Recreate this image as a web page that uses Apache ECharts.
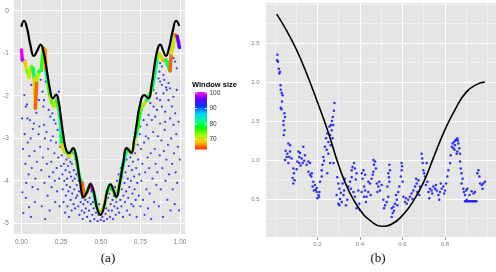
<!DOCTYPE html>
<html><head><meta charset="utf-8">
<script src="https://cdn.jsdelivr.net/npm/echarts@6/dist/echarts.min.js"></script>
<style>html,body{margin:0;padding:0;background:#fff}#c{width:496px;height:272px}</style>
</head><body><div id="c"></div>
<script>
// ---------- Panel (a) data ----------
var aXTicks = [0, 0.25, 0.5, 0.75, 1];
var aXTickLabels = ['0.00', '0.25', '0.50', '0.75', '1.00'];
var aXMinor = [0.125, 0.375, 0.625, 0.875];
var aYTicks = [0, -1, -2, -3, -4, -5];
var aYTickLabels = ['0', '-1', '-2', '-3', '-4', '-5'];
var aYMinor = [-0.5, -1.5, -2.5, -3.5, -4.5];
var aXRange = [-0.0483, 1.031], aYRange = [-5.252, 0.259];

var curveAX = [0.00,0.016,0.035,0.055,0.079,0.10,0.121,0.14,0.16,0.18,0.198,0.218,0.235,0.25,0.265,0.28,0.299,0.326,0.345,0.365,0.393,0.415,0.435,0.455,0.475,0.498,0.52,0.54,0.561,0.58,0.598,0.62,0.64,0.665,0.692,0.71,0.725,0.745,0.774,0.80,0.82,0.84,0.858,0.874,0.893,0.91,0.93,0.955,0.975,0.995];
var curveAY = [-0.37,-0.23,-0.40,-0.78,-1.06,-0.93,-0.79,-0.98,-1.40,-1.85,-2.06,-1.97,-2.15,-2.55,-2.95,-3.25,-3.35,-3.23,-3.42,-3.90,-4.38,-4.25,-4.08,-4.25,-4.62,-4.80,-4.62,-4.25,-4.08,-4.22,-4.38,-4.05,-3.62,-3.23,-3.34,-3.05,-2.70,-2.25,-1.98,-2.05,-1.75,-1.25,-0.90,-0.79,-0.93,-1.06,-0.88,-0.45,-0.23,-0.35];

var winX = [0.0,0.006,0.021,0.033,0.048,0.063,0.073,0.081,0.088,0.096,0.11,0.125,0.138,0.148,0.155,0.167,0.18,0.19,0.205,0.222,0.236,0.247,0.25,0.253,0.267,0.285,0.30,0.326,0.345,0.365,0.383,0.393,0.415,0.435,0.455,0.475,0.498,0.52,0.54,0.561,0.58,0.598,0.62,0.64,0.665,0.692,0.705,0.72,0.732,0.75,0.774,0.79,0.81,0.825,0.842,0.855,0.864,0.879,0.895,0.91,0.937,0.944,0.955,0.968,0.982,0.996];
var winY = [-0.92,-1.15,-1.19,-1.39,-1.56,-1.31,-1.35,-1.59,-2.29,-1.63,-1.43,-1.39,-0.88,-0.92,-1.43,-1.70,-2.02,-2.14,-2.25,-2.10,-2.33,-2.64,-2.90,-3.15,-3.31,-3.32,-3.42,-3.25,-3.45,-3.92,-4.05,-4.38,-4.25,-4.08,-4.27,-4.62,-4.78,-4.62,-4.25,-4.10,-4.24,-4.38,-4.05,-3.62,-3.25,-3.34,-3.25,-2.95,-2.76,-2.33,-2.18,-2.10,-1.95,-1.80,-1.43,-1.15,-0.99,-1.06,-1.17,-1.15,-1.41,-1.00,-0.85,-0.56,-0.60,-0.86];
var winW = [100,98,69,74,70,75,80,70,65,72,80,76,65,66,82,76,71,75,70,80,81,82,79,69,72,75,70,80,78,80,65,66,77,100,80,74,70,73,80,78,74,74,80,82,78,69,72,80,77,74,70,80,75,80,81,75,70,70,67,80,65,70,71,65,96,66];
var winScaleMin = 63.3, winScaleMax = 100.7;
var winLegendTicks = [70, 80, 90, 100];

var scatterA = [
[0.004,-2.53],[0.01,-3.25],[0.006,-4.27],[0.012,-4.76],[0.02,-2.9],[0.025,-3.6],[0.03,-4.05],[0.028,-4.4],[0.035,-2.2],[0.04,-3.1],[0.045,-3.85],[0.048,-4.62],[0.018,-1.98],[0.027,-2.25],[0.038,-2.53],[0.05,-3.42],
[0.054,-2.57],[0.058,-3.0],[0.062,-1.74],[0.065,-3.7],[0.07,-4.15],[0.072,-2.78],[0.078,-1.55],[0.079,-2.65],[0.082,-3.3],[0.085,-4.5],[0.088,-3.95],[0.09,-1.86],[0.094,-2.4],[0.096,-2.06],[0.098,-3.55],[0.06,-4.85],
[0.104,-4.2],[0.108,-2.9],[0.111,-2.1],[0.113,-2.72],[0.118,-3.2],[0.121,-1.62],[0.125,-3.75],[0.128,-4.6],[0.132,-1.9],[0.135,-3.45],[0.138,-2.25],[0.142,-2.68],[0.142,-2.1],[0.145,-4.05],[0.148,-3.0],[0.15,-4.9],
[0.153,-1.66],[0.158,-2.85],[0.16,-3.6],[0.163,-1.59],[0.165,-4.35],[0.168,-3.25],[0.172,-2.33],[0.175,-3.9],[0.178,-4.7],[0.182,-2.49],[0.185,-3.05],[0.188,-3.55],[0.19,-4.15],[0.195,-2.41],[0.198,-2.95],[0.2,-3.8],
[0.205,-2.57],[0.208,-3.35],[0.21,-4.0],[0.213,-4.5],[0.215,-2.65],[0.218,-3.1],[0.222,-3.7],[0.225,-4.25],[0.228,-2.8],[0.232,-3.45],[0.236,-2.41],[0.238,-3.95],[0.24,-4.6],[0.244,-3.2],[0.247,-2.95],[0.25,-3.65],[0.236,-1.9],
[0.255,-3.4],[0.258,-3.85],[0.26,-4.2],[0.262,-3.05],[0.265,-4.5],[0.268,-3.6],[0.27,-4.0],[0.272,-3.3],[0.275,-4.75],[0.278,-3.75],[0.28,-4.35],[0.283,-3.5],[0.285,-4.1],[0.288,-3.95],[0.29,-4.6],[0.293,-3.65],[0.296,-4.25],[0.298,-3.45],[0.3,-4.85],
[0.303,-3.8],[0.306,-4.15],[0.308,-3.55],[0.31,-4.45],[0.313,-3.9],[0.316,-4.7],[0.318,-3.6],[0.32,-4.3],[0.323,-4.0],[0.326,-3.35],[0.328,-4.55],[0.33,-3.75],[0.333,-4.2],[0.336,-3.95],[0.338,-4.65],[0.34,-3.5],[0.343,-4.4],[0.346,-3.85],[0.348,-4.1],
[0.352,-4.35],[0.355,-3.7],[0.358,-4.6],[0.36,-4.0],[0.363,-4.25],[0.366,-4.8],[0.37,-3.95],[0.373,-4.5],[0.376,-4.15],[0.38,-4.7],[0.383,-4.4],[0.386,-4.9],[0.39,-4.55],[0.393,-4.2],[0.396,-4.75],
[0.402,-4.45],[0.406,-4.65],[0.41,-4.3],[0.414,-4.85],[0.418,-4.5],[0.422,-4.2],[0.426,-4.7],[0.43,-4.4],[0.434,-4.95],[0.438,-4.55],[0.442,-4.25],[0.446,-4.8],[0.45,-4.5],
[0.455,-4.65],[0.46,-4.9],[0.465,-4.45],[0.47,-4.75],[0.475,-4.6],[0.48,-4.95],[0.485,-4.8],[0.49,-4.55],[0.5,-4.92],[0.505,-4.7],[0.51,-4.85],[0.515,-4.6],[0.52,-4.95],[0.525,-4.5],[0.53,-4.78],[0.535,-4.65],[0.54,-4.9],[0.545,-4.4],[0.55,-4.7],
[0.553,-4.3],[0.558,-4.85],[0.562,-4.55],[0.566,-4.2],[0.57,-4.7],[0.574,-4.45],[0.578,-4.9],[0.582,-4.35],[0.586,-4.6],[0.59,-4.15],[0.595,-4.8],[0.598,-4.5],
[0.603,-4.0],[0.606,-4.65],[0.61,-4.3],[0.613,-3.85],[0.616,-4.75],[0.62,-4.1],[0.623,-4.45],[0.626,-3.7],[0.63,-4.6],[0.633,-4.2],[0.636,-3.9],[0.64,-4.85],[0.643,-4.35],[0.646,-3.6],[0.65,-4.05],
[0.653,-4.5],[0.656,-3.8],[0.66,-4.25],[0.663,-3.5],[0.666,-4.7],[0.67,-3.95],[0.673,-4.4],[0.676,-3.65],[0.68,-4.15],[0.683,-4.8],[0.686,-3.45],[0.69,-4.0],[0.693,-4.55],[0.696,-3.75],[0.7,-4.3],
[0.703,-3.55],[0.706,-4.6],[0.71,-3.9],[0.713,-4.2],[0.716,-3.35],[0.72,-4.45],[0.723,-3.7],[0.726,-4.85],[0.73,-4.05],[0.733,-3.15],[0.736,-3.5],[0.74,-4.35],[0.743,-3.85],[0.746,-2.9],[0.749,-2.72],[0.75,-4.6],
[0.753,-3.25],[0.756,-4.0],[0.759,-2.33],[0.762,-3.6],[0.766,-4.45],[0.77,-2.57],[0.773,-3.1],[0.776,-4.8],[0.78,-3.8],[0.784,-2.95],[0.788,-4.2],[0.791,-2.68],[0.795,-3.45],[0.798,-4.65],[0.8,-3.0],
[0.801,-2.45],[0.805,-3.7],[0.808,-4.3],[0.812,-2.17],[0.815,-3.35],[0.818,-4.9],[0.822,-1.7],[0.822,-2.57],[0.826,-3.95],[0.83,-2.85],[0.833,-1.86],[0.833,-2.25],[0.836,-4.5],[0.84,-3.25],[0.843,-2.49],[0.846,-3.6],[0.849,-1.94],[0.85,-4.1],
[0.854,-2.06],[0.854,-2.33],[0.857,-3.8],[0.86,-2.95],[0.864,-1.59],[0.866,-4.6],[0.87,-1.43],[0.872,-3.4],[0.874,-1.23],[0.874,-1.66],[0.874,-2.1],[0.874,-2.65],[0.878,-4.2],[0.882,-3.05],[0.885,-1.31],[0.885,-1.74],[0.885,-2.25],[0.888,-3.7],[0.892,-4.85],[0.895,-1.51],[0.895,-1.94],[0.898,-3.3],
[0.9,-1.62],[0.903,-2.8],[0.906,-2.37],[0.906,-2.61],[0.908,-4.0],[0.912,-1.8],[0.914,-3.5],[0.916,-1.27],[0.916,-1.86],[0.92,-4.45],[0.924,-3.15],[0.927,-1.7],[0.927,-2.1],[0.93,-3.85],[0.933,-1.19],[0.937,-1.82],[0.937,-2.53],[0.94,-4.7],[0.944,-3.0],[0.948,-2.25],[0.95,-3.6],
[0.954,-4.2],[0.958,-1.11],[0.958,-2.02],[0.958,-2.68],[0.962,-3.35],[0.966,-4.55],[0.969,-1.19],[0.969,-2.41],[0.972,-3.8],[0.976,-2.9],[0.979,-1.35],[0.979,-1.86],[0.982,-4.05],[0.986,-3.2],[0.99,-0.84],[0.99,-2.61],[0.993,-4.7],[0.996,-0.72],[0.998,-3.5]
];

// ---------- Panel (b) data ----------
var bXTicks = [0.2, 0.4, 0.6, 0.8];
var bXTickLabels = ['0.2', '0.4', '0.6', '0.8'];
var bXMinor = [0.0, 0.1, 0.3, 0.5, 0.7, 0.9, 1.0];
var bYTicks = [0.5, 1.0, 1.5, 2.0, 2.5];
var bYTickLabels = ['0.5', '1.0', '1.5', '2.0', '2.5'];
var bYMinor = [0.25, 0.75, 1.25, 1.75, 2.25, 2.75, 3.0];
var bXRange = [-0.0424, 1.04], bYRange = [0.0128, 3.013];

var curveBX = [0.008,0.05,0.10,0.15,0.20,0.25,0.30,0.35,0.40,0.45,0.50,0.55,0.60,0.65,0.70,0.75,0.80,0.85,0.90,0.95,0.988];
var curveBY = [2.87,2.68,2.42,2.10,1.74,1.36,0.93,0.59,0.36,0.22,0.15,0.18,0.29,0.47,0.72,1.06,1.39,1.66,1.87,1.97,2.00];

var scatterB = [
[0.011,2.35],[0.0097,2.28],[0.014,2.26],[0.018,2.17],[0.023,2.13],[0.02,2.11],[0.026,1.96],[0.027,1.90],[0.031,1.86],[0.036,1.83],[0.033,1.75],[0.027,1.67],[0.031,1.65],[0.044,1.60],[0.047,1.55],[0.040,1.50],[0.040,1.45],[0.045,1.38],
[0.041,1.32],[0.063,1.21],[0.071,1.19],[0.05,1.12],[0.071,1.11],[0.055,1.04],[0.067,1.04],[0.078,1.02],[0.047,1.0],[0.063,0.96],[0.058,1.08],
[0.086,0.89],[0.089,0.83],[0.102,0.88],[0.083,0.77],[0.086,0.70],[0.092,0.74],[0.11,1.11],[0.118,1.09],[0.114,1.04],[0.125,1.02],[0.105,0.98],[0.114,0.96],[0.133,1.17],[0.141,1.06],[0.13,0.96],[0.149,0.94],[0.157,0.98],[0.165,0.96],[0.12,0.93],[0.137,0.99],
[0.157,0.85],[0.165,0.81],[0.173,0.83],[0.17,0.79],[0.18,0.72],[0.177,0.66],[0.188,0.68],[0.196,0.64],[0.183,0.61],[0.196,0.59],[0.204,0.55],[0.199,0.51],[0.209,0.59],[0.212,0.72],[0.22,0.79],[0.207,0.53],[0.192,0.62],
[0.22,0.87],[0.224,0.94],[0.227,1.04],[0.235,1.17],[0.24,1.28],[0.246,1.34],[0.251,1.23],[0.259,1.32],[0.256,1.43],[0.267,1.38],[0.271,1.28],[0.262,1.19],[0.251,1.08],[0.259,0.96],[0.246,0.83],[0.275,0.96],[0.268,1.5],[0.272,1.55],[0.277,1.63],[0.28,1.73],[0.274,1.45],[0.263,1.45],[0.243,1.13],[0.231,0.99],
[0.293,0.78],[0.298,0.70],[0.303,0.63],[0.29,0.55],[0.306,0.50],[0.298,0.44],[0.303,0.42],[0.314,0.46],[0.322,0.55],[0.325,0.61],[0.318,0.70],[0.329,0.76],[0.334,0.42],[0.34,0.49],[0.31,0.58],
[0.345,0.66],[0.353,0.72],[0.361,0.78],[0.365,0.91],[0.372,0.96],[0.376,0.89],[0.361,0.87],[0.384,0.83],[0.369,0.59],[0.376,0.53],[0.392,0.61],[0.397,0.44],[0.384,0.38],[0.4,0.36],[0.357,0.63],[0.38,0.75],
[0.408,0.83],[0.416,0.87],[0.412,0.76],[0.424,0.81],[0.419,0.66],[0.424,0.61],[0.431,0.53],[0.428,0.46],[0.439,0.72],[0.408,0.59],[0.419,0.53],[0.439,0.59],[0.447,0.70],[0.455,0.76],[0.46,0.81],
[0.463,1.0],[0.471,0.98],[0.466,0.94],[0.475,0.89],[0.463,0.85],[0.479,0.70],[0.486,0.66],[0.494,0.61],[0.482,0.59],[0.502,0.68],[0.491,0.72],[0.45,0.55],
[0.51,0.49],[0.518,0.42],[0.513,0.38],[0.526,0.46],[0.533,0.53],[0.538,0.72],[0.533,0.83],[0.538,0.94],[0.541,0.87],[0.529,0.66],[0.536,0.78],
[0.549,0.38],[0.554,0.32],[0.549,0.27],[0.557,0.40],[0.565,0.44],[0.573,0.49],[0.57,0.55],[0.58,0.59],[0.585,0.66],[0.576,0.42],[0.56,0.35],
[0.592,0.79],[0.596,0.87],[0.596,0.96],[0.601,0.72],[0.604,0.53],[0.612,0.46],[0.62,0.44],[0.616,0.51],[0.627,0.49],[0.598,0.92],
[0.635,0.53],[0.643,0.57],[0.651,0.61],[0.659,0.66],[0.667,0.70],[0.664,0.76],[0.675,0.74],[0.67,0.59],[0.679,0.55],[0.682,0.66],[0.647,0.50],
[0.69,1.08],[0.695,0.96],[0.698,0.87],[0.706,0.79],[0.714,0.96],[0.717,0.72],[0.722,0.59],[0.729,0.63],[0.726,0.51],[0.737,0.61],[0.693,1.02],[0.702,0.83],[0.71,0.68],
[0.745,0.66],[0.753,0.63],[0.761,0.61],[0.769,0.55],[0.773,0.49],[0.776,0.59],[0.784,0.63],[0.792,0.66],[0.8,0.61],[0.805,0.70],[0.811,0.79],[0.816,0.87],[0.74,0.57],[0.757,0.68],[0.78,0.70],[0.796,0.57],
[0.824,0.96],[0.827,1.06],[0.832,1.17],[0.836,1.21],[0.842,1.23],[0.847,1.19],[0.852,1.26],[0.858,1.28],[0.863,1.21],[0.867,1.15],[0.858,1.11],[0.871,1.08],[0.855,1.08],[0.839,1.15],[0.849,1.25],[0.861,1.25],[0.845,1.13],
[0.871,0.98],[0.874,0.89],[0.878,0.83],[0.883,0.76],[0.878,0.70],[0.886,0.63],[0.889,0.59],[0.894,0.55],[0.899,0.61],[0.905,0.63],[0.902,0.49],
[0.894,0.47],[0.9,0.47],[0.906,0.47],[0.912,0.47],[0.918,0.47],[0.924,0.47],[0.93,0.47],[0.936,0.47],[0.942,0.47],[0.948,0.47],
[0.952,0.83],[0.957,0.87],[0.962,0.79],[0.965,0.70],[0.973,0.68],[0.977,0.63],[0.98,0.70],[0.988,0.72],[0.934,0.57],[0.941,0.59],[0.915,0.55],[0.925,0.6]
];

// ---------- styles ----------
var PANEL_BG = '#E5E5E5', AXIS_TXT = '#7F7F7F', MAJOR_GRID = '#FFFFFF', MINOR_GRID = '#EFEFEF';
var rainbow = ['#FF2B00','#FFC300','#A2FF00','#04FF00','#00FF95','#00D0FF','#0037FF','#6600FF','#FF00FF'];

function zip(xs, ys){ return xs.map(function(x,i){ return [x, ys[i]]; }); }
function lbl(ticks, labels){ return function(v){ for (var i=0;i<ticks.length;i++){ if (Math.abs(ticks[i]-v)<1e-9) return labels[i]; } return ''; }; }
function snap(p){ return Math.round(p - 0.5) + 0.5; }

// panel painter: background + minor + major grid lines, placed through the axes
function panelSeries(ai, xMaj, xMin, yMaj, yMin){
  return {
    type:'custom', xAxisIndex:ai, yAxisIndex:ai, data:[[xMaj[0], yMaj[0]]], z:1, silent:true, clip:false,
    renderItem:function(params, api){
      var cs = params.coordSys;
      var kids = [{type:'rect', shape:{x:cs.x, y:cs.y, width:cs.width, height:cs.height}, style:{fill:PANEL_BG}}];
      function vline(v, major){
        var px = snap(api.coord([v, yMaj[0]])[0]);
        kids.push({type:'line', shape:{x1:px, y1:cs.y, x2:px, y2:cs.y+cs.height},
                   style:{stroke: major ? MAJOR_GRID : MINOR_GRID, lineWidth:1}});
      }
      function hline(v, major){
        var py = snap(api.coord([xMaj[0], v])[1]);
        kids.push({type:'line', shape:{x1:cs.x, y1:py, x2:cs.x+cs.width, y2:py},
                   style:{stroke: major ? MAJOR_GRID : MINOR_GRID, lineWidth:1}});
      }
      xMin.forEach(function(v){ vline(v, false); });
      yMin.forEach(function(v){ hline(v, false); });
      xMaj.forEach(function(v){ vline(v, true); });
      yMaj.forEach(function(v){ hline(v, true); });
      return {type:'group', children:kids};
    }
  };
}
function axisCommon(ticks, labels, fs, margin){
  return {
    axisLine:{show:false},
    splitLine:{show:false},
    axisTick:{show:true, length:3, customValues:ticks, lineStyle:{color:AXIS_TXT, width:0.8}},
    axisLabel:{customValues:ticks, formatter:lbl(ticks, labels), color:AXIS_TXT, fontSize:fs, fontFamily:'Liberation Sans, Arial, sans-serif', margin:margin}
  };
}

var xa = Object.assign({type:'value', gridIndex:0, min:aXRange[0], max:aXRange[1]}, axisCommon(aXTicks, aXTickLabels, 6.5, 5));
var ya = Object.assign({type:'value', gridIndex:0, min:aYRange[0], max:aYRange[1]}, axisCommon(aYTicks, aYTickLabels, 6.5, 5));
var xb = Object.assign({type:'value', gridIndex:1, min:bXRange[0], max:bXRange[1]}, axisCommon(bXTicks, bXTickLabels, 6, 4.5));
var yb = Object.assign({type:'value', gridIndex:1, min:bYRange[0], max:bYRange[1]}, axisCommon(bYTicks, bYTickLabels, 6, 6.5));

// legend geometry (colour bar)
var barX = 195, barW = 12, barTop = 92, barBottom = 149.5;
function barY(v){ return barBottom - (v - winScaleMin) / (winScaleMax - winScaleMin) * (barBottom - barTop); }
var legendGraphics = [
  {type:'text', left:192, top:81, style:{text:'Window size', font:'bold 7.5px "Liberation Sans", Arial, sans-serif', fill:'#000'}},
  {type:'rect', shape:{x:barX, y:barTop, width:barW, height:barBottom-barTop},
   style:{fill:new echarts.graphic.LinearGradient(0,1,0,0, rainbow.map(function(c,i){ return {offset:i/(rainbow.length-1), color:c}; }))}}
];
winLegendTicks.forEach(function(v){
  var y = barY(v);
  legendGraphics.push({type:'line', shape:{x1:barX, y1:y, x2:barX+2.5, y2:y}, style:{stroke:'#fff', lineWidth:0.8}});
  legendGraphics.push({type:'line', shape:{x1:barX+barW-2.5, y1:y, x2:barX+barW, y2:y}, style:{stroke:'#fff', lineWidth:0.8}});
  legendGraphics.push({type:'text', x:barX+barW+2.5, y:y, style:{text:String(v), font:'6.5px "Liberation Sans", Arial, sans-serif', fill:'#333', verticalAlign:'middle', textAlign:'left'}});
});
legendGraphics.push({type:'text', x:108, y:259, style:{text:'(a)', font:'13px "Liberation Serif", "DejaVu Serif", serif', fill:'#111', textAlign:'center', verticalAlign:'middle'}});
legendGraphics.push({type:'text', x:378, y:259, style:{text:'(b)', font:'13px "Liberation Serif", "DejaVu Serif", serif', fill:'#111', textAlign:'center', verticalAlign:'middle'}});

var winData = winX.map(function(x,i){ return [x, winY[i], winW[i]]; });

var chart = echarts.init(document.getElementById('c'), null, {renderer:'canvas'});
chart.setOption({
  animation:false,
  grid:[
    {left:13, top:0, width:172, height:234, show:false},
    {left:266, top:3, width:230, height:234, show:false}
  ],
  xAxis:[xa, xb],
  yAxis:[ya, yb],
  visualMap:[{type:'continuous', show:false, seriesIndex:1, dimension:2, min:winScaleMin, max:winScaleMax, inRange:{color:rainbow}}],
  graphic:legendGraphics,
  series:[
    {type:'scatter', xAxisIndex:0, yAxisIndex:0, data:scatterA, symbolSize:2.2, z:3,
     itemStyle:{color:'#1A1AFF', opacity:0.85}},
    {type:'custom', xAxisIndex:0, yAxisIndex:0, data:winData, z:4, encode:{x:0, y:1},
     renderItem:function(params, api){
       var i = params.dataIndex;
       if (i >= winX.length - 1) return null;
       var p0 = api.coord([winX[i], winY[i]]);
       var p1 = api.coord([winX[i+1], winY[i+1]]);
       return {type:'line', shape:{x1:p0[0], y1:p0[1], x2:p1[0], y2:p1[1]},
               style:{stroke:api.visual('color'), lineWidth:3.5, lineCap:'round'}};
     }},
    {type:'line', xAxisIndex:0, yAxisIndex:0, data:zip(curveAX, curveAY), smooth:0.5, showSymbol:false, z:5,
     lineStyle:{color:'#000', width:2.2}},
    {type:'scatter', xAxisIndex:1, yAxisIndex:1, data:scatterB, symbolSize:2.5, z:3,
     itemStyle:{color:'#1A1AFF', opacity:0.9}},
    {type:'line', xAxisIndex:1, yAxisIndex:1, data:zip(curveBX, curveBY), smooth:0.5, showSymbol:false, z:5,
     lineStyle:{color:'#000', width:1.6}},
    panelSeries(0, aXTicks, aXMinor, aYTicks, aYMinor),
    panelSeries(1, bXTicks, bXMinor, bYTicks, bYMinor)
  ]
});
</script></body></html>
